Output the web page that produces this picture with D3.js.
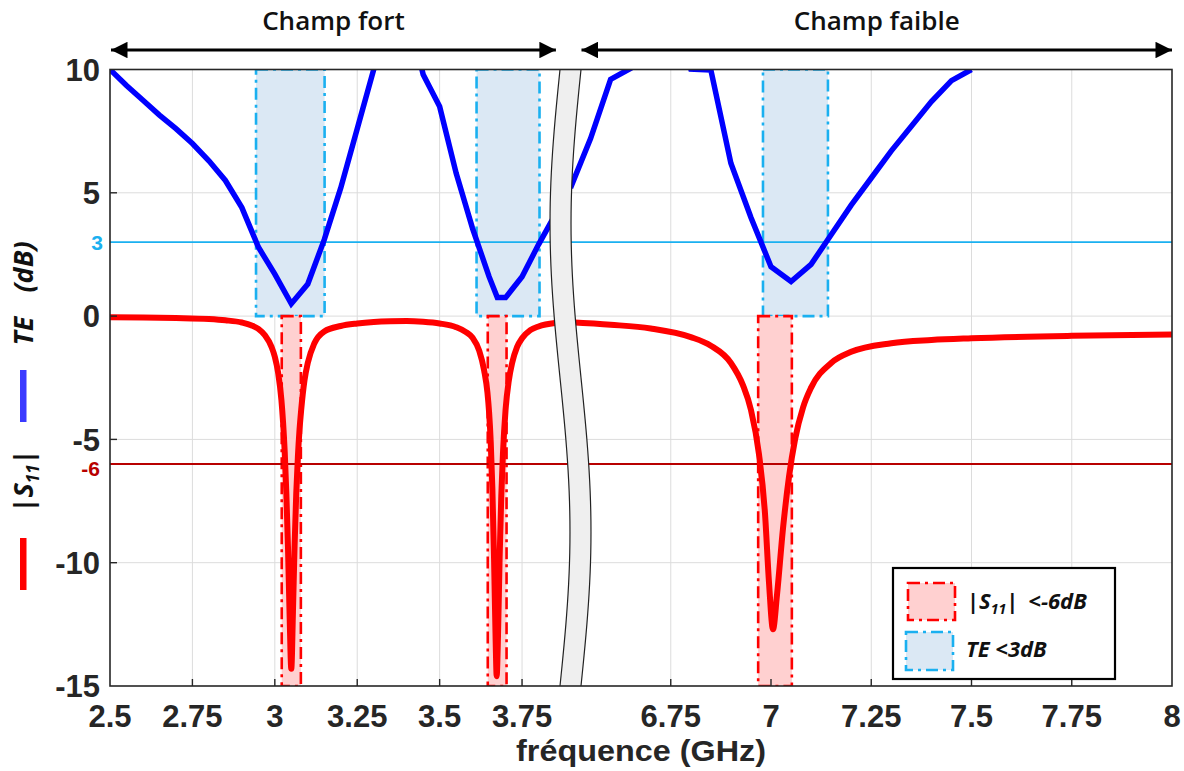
<!DOCTYPE html>
<html><head><meta charset="utf-8">
<script src="https://cdn.jsdelivr.net/npm/d3@7"></script>
<style>body{margin:0;background:#fff}</style>
</head><body>
<svg id="c" width="1184" height="771"></svg>
<script>
// ---------------- data ----------------
const xTicks = [2.5, 2.75, 3, 3.25, 3.5, 3.75, 6.75, 7, 7.25, 7.5, 7.75, 8];
const xTickLabels = ["2.5", "2.75", "3", "3.25", "3.5", "3.75", "6.75", "7", "7.25", "7.5", "7.75", "8"];
const yTicks = [-15, -10, -5, 0, 5, 10];
const yTickLabels = ["-15", "-10", "-5", "0", "5", "10"];
const xDomain = [2.5, 3.88, 6.5, 8];   // broken axis: [left start, left end, right start, right end]
const yDomain = [-15, 10];

const teLeftFreq = [2.5, 2.55, 2.6, 2.65, 2.7, 2.75, 2.8, 2.85, 2.9, 2.95, 3.0, 3.05, 3.1, 3.15, 3.2, 3.25, 3.3, 3.35, 3.4, 3.45, 3.5, 3.55, 3.6, 3.65, 3.675, 3.7, 3.75, 3.8, 3.85, 3.88];
const teLeftVal  = [10, 9.35, 8.75, 8.15, 7.6, 7.0, 6.3, 5.5, 4.4, 2.8, 1.7, 0.5, 1.3, 3.1, 5.2, 7.6, 10, 12.5, 12.5, 9.8, 8.5, 5.8, 3.55, 1.6, 0.75, 0.75, 1.6, 2.9, 4.1, 4.7];
const teRightFreq = [6.5, 6.55, 6.6, 6.65, 6.7, 6.75, 6.8, 6.85, 6.9, 6.95, 7.0, 7.05, 7.1, 7.15, 7.2, 7.25, 7.3, 7.35, 7.4, 7.45, 7.5];
const teRightVal  = [5.2, 7.2, 9.6, 10.05, 12.5, 12.5, 10.02, 9.98, 6.2, 4.0, 2.0, 1.4, 2.1, 3.3, 4.5, 5.6, 6.7, 7.7, 8.7, 9.55, 10.0];

const s11LeftFreq = [2.5, 2.6, 2.7, 2.8, 2.85, 2.9, 2.93, 2.95, 2.97, 2.99, 3.0, 3.01, 3.02, 3.025, 3.03, 3.035, 3.04, 3.045, 3.05, 3.055, 3.06, 3.065, 3.07, 3.075, 3.08, 3.09, 3.1, 3.12, 3.15, 3.2, 3.25, 3.3, 3.35, 3.4, 3.45, 3.5, 3.55, 3.58, 3.6, 3.62, 3.635, 3.645, 3.65, 3.655, 3.66, 3.665, 3.67, 3.673, 3.677, 3.682, 3.687, 3.692, 3.7, 3.71, 3.72, 3.735, 3.75, 3.775, 3.8, 3.85, 3.88];
const s11LeftVal  = [-0.05, -0.06, -0.08, -0.12, -0.17, -0.26, -0.38, -0.52, -0.78, -1.25, -1.65, -2.3, -3.4, -4.3, -5.5, -7.2, -9.4, -12.2, -14.3, -12.0, -9.3, -7.2, -5.7, -4.6, -3.8, -2.6, -1.9, -1.1, -0.62, -0.4, -0.3, -0.24, -0.21, -0.2, -0.23, -0.3, -0.45, -0.65, -0.88, -1.4, -2.2, -3.1, -3.9, -5.1, -7.0, -9.8, -13.2, -14.6, -13.0, -9.8, -7.3, -5.6, -3.8, -2.6, -1.9, -1.25, -0.9, -0.57, -0.42, -0.28, -0.25];
const s11RightFreq = [6.5, 6.6, 6.7, 6.8, 6.85, 6.9, 6.93, 6.95, 6.97, 6.985, 6.995, 7.005, 7.015, 7.03, 7.045, 7.06, 7.08, 7.1, 7.15, 7.2, 7.3, 7.4, 7.5, 7.75, 8.0];
const s11RightVal  = [-0.25, -0.35, -0.5, -0.85, -1.2, -1.9, -2.8, -3.8, -5.6, -8.0, -10.8, -12.7, -11.3, -8.6, -6.5, -5.0, -3.7, -2.9, -1.9, -1.45, -1.1, -0.97, -0.9, -0.8, -0.75];

const redBandStart  = [3.021, 3.646, 6.968];
const redBandEnd    = [3.079, 3.703, 7.052];
const blueBandStart = [2.943, 3.612, 6.980];
const blueBandEnd   = [3.151, 3.803, 7.142];

const teThreshold = 3;
const s11Threshold = -6;
const legendLabels = ["<-6dB", "TE <3dB"];
const regionLabels = ["Champ fort", "Champ faible"];

// ---------------- setup ----------------
const svg = d3.select("#c");
const L = 110, R = 1172, T = 69.5, B = 686;
const x = d3.scaleLinear().domain(xDomain).range([L, 564.9, 570.5, R]);
const y = d3.scaleLinear().domain(yDomain).range([B, T]);
const ink = "#262626";
const cBlue = "#0000ff", cRed = "#ff0000", cSky = "#1ab0f0", cDark = "#b80000";

const defs = svg.append("defs");
defs.append("clipPath").attr("id", "plot").append("rect")
  .attr("x", L).attr("y", T).attr("width", R - L).attr("height", B - T);
defs.append("marker").attr("id", "arr").attr("viewBox", "0 0 10 10")
  .attr("refX", 10).attr("refY", 5)
  .attr("markerWidth", 6.5).attr("markerHeight", 5.5).attr("markerUnits", "strokeWidth")
  .attr("orient", "auto-start-reverse")
  .append("path").attr("d", "M0,0 L10,5 L0,10 z").attr("fill", "#000");

// grid
const gridX = xTicks.filter(v => v !== xDomain[0] && v !== xDomain[3]);
svg.append("g").selectAll("line").data(gridX).join("line")
  .attr("x1", d => x(d)).attr("x2", d => x(d)).attr("y1", T).attr("y2", B)
  .attr("stroke", "#dcdcdc").attr("stroke-width", 1);
svg.append("g").selectAll("line").data(yTicks.slice(1, -1)).join("line")
  .attr("x1", L).attr("x2", R).attr("y1", d => y(d)).attr("y2", d => y(d))
  .attr("stroke", "#dcdcdc").attr("stroke-width", 1);

const plot = svg.append("g").attr("clip-path", "url(#plot)");
const dashDot = "12,5,3,5";

// shaded regions
const blueData = blueBandStart.map((s, i) => [s, blueBandEnd[i]]);
plot.append("g").selectAll("rect").data(blueData).join("rect")
  .attr("x", d => x(d[0])).attr("width", d => x(d[1]) - x(d[0]))
  .attr("y", y(10)).attr("height", y(0) - y(10))
  .attr("fill", "#dbe8f4").attr("stroke", cSky).attr("stroke-width", 2.6)
  .attr("stroke-dasharray", dashDot);
const redData = redBandStart.map((s, i) => [s, redBandEnd[i]]);
plot.append("g").selectAll("rect").data(redData).join("rect")
  .attr("x", d => x(d[0])).attr("width", d => x(d[1]) - x(d[0]))
  .attr("y", y(0)).attr("height", y(-15) - y(0))
  .attr("fill", "#ffd0d0").attr("stroke", cRed).attr("stroke-width", 2.6)
  .attr("stroke-dasharray", dashDot);

// threshold lines
plot.append("line").attr("x1", L).attr("x2", R).attr("y1", y(teThreshold)).attr("y2", y(teThreshold))
  .attr("stroke", cSky).attr("stroke-width", 1.8);
plot.append("line").attr("x1", L).attr("x2", R).attr("y1", y(s11Threshold)).attr("y2", y(s11Threshold))
  .attr("stroke", cDark).attr("stroke-width", 2);

// curves
const zip = (f, v) => f.map((d, i) => [d, v[i]]);
const smooth = d3.line().x(d => x(d[0])).y(d => y(d[1])).curve(d3.curveMonotoneX);
const poly = d3.line().x(d => x(d[0])).y(d => y(d[1]));
[zip(s11LeftFreq, s11LeftVal), zip(s11RightFreq, s11RightVal)].forEach(dat => {
  plot.append("path").attr("d", smooth(dat)).attr("fill", "none")
    .attr("stroke", cRed).attr("stroke-width", 6).attr("stroke-linejoin", "round").attr("stroke-linecap", "round");
});
[zip(teLeftFreq, teLeftVal), zip(teRightFreq, teRightVal)].forEach(dat => {
  plot.append("path").attr("d", poly(dat)).attr("fill", "none")
    .attr("stroke", cBlue).attr("stroke-width", 5.5).attr("stroke-linejoin", "miter").attr("stroke-linecap", "butt");
});

// axis break band (decorative S shape)
const bandC = x(xDomain[2]), bandW = 10.5, amp = 10;
const ys = d3.range(0, 61).map(i => T + (B - T) * i / 60);
const cx = yy => bandC - amp * Math.sin(2 * Math.PI * (yy - T) / (B - T));
const leftEdge = ys.map(yy => [cx(yy) - bandW, yy]);
const rightEdge = ys.map(yy => [cx(yy) + bandW, yy]);
const pl = d3.line().curve(d3.curveBasis);
svg.append("path").attr("d", d3.line()(leftEdge.concat(rightEdge.slice().reverse())) + "Z")
  .attr("fill", "#efefef").attr("stroke", "none");
svg.append("path").attr("d", pl(leftEdge)).attr("fill", "none").attr("stroke", "#222").attr("stroke-width", 1.2);
svg.append("path").attr("d", pl(rightEdge)).attr("fill", "none").attr("stroke", "#222").attr("stroke-width", 1.2);

// axes box & ticks
svg.append("rect").attr("x", L).attr("y", T).attr("width", R - L).attr("height", B - T)
  .attr("fill", "none").attr("stroke", ink).attr("stroke-width", 1.6);
svg.append("g").selectAll("line").data(gridX).join("line")
  .attr("x1", d => x(d)).attr("x2", d => x(d)).attr("y1", B).attr("y2", B - 7)
  .attr("stroke", ink).attr("stroke-width", 1.4);
svg.append("g").selectAll("line").data(yTicks.slice(1, -1)).join("line")
  .attr("x1", L).attr("x2", L + 7).attr("y1", d => y(d)).attr("y2", d => y(d))
  .attr("stroke", ink).attr("stroke-width", 1.4);

const tickFont = "'Liberation Sans', Arial, sans-serif";
svg.append("g").selectAll("text").data(xTicks).join("text")
  .attr("x", d => x(d)).attr("y", 727).attr("text-anchor", "middle")
  .attr("font-family", tickFont).attr("font-weight", "bold").attr("font-size", 31).attr("fill", ink)
  .text((d, i) => xTickLabels[i]);
svg.append("g").selectAll("text").data(yTicks).join("text")
  .attr("x", 100).attr("y", d => y(d)).attr("dy", "0.36em").attr("text-anchor", "end")
  .attr("font-family", tickFont).attr("font-weight", "bold").attr("font-size", 31).attr("fill", ink)
  .text((d, i) => yTickLabels[i]);
svg.append("text").attr("x", 103).attr("y", y(teThreshold)).attr("dy", "0.36em").attr("text-anchor", "end")
  .attr("font-family", tickFont).attr("font-weight", "bold").attr("font-size", 21).attr("fill", cSky).text(String(teThreshold));
svg.append("text").attr("x", 100).attr("y", y(s11Threshold) + 4).attr("dy", "0.36em").attr("text-anchor", "end")
  .attr("font-family", tickFont).attr("font-weight", "bold").attr("font-size", 21).attr("fill", cDark).text(String(s11Threshold));

svg.append("text").attr("x", 641).attr("y", 761).attr("text-anchor", "middle")
  .attr("font-family", tickFont).attr("font-weight", "bold").attr("font-size", 30).attr("fill", ink)
  .attr("textLength", 250).attr("lengthAdjust", "spacingAndGlyphs")
  .text("fréquence (GHz)");

// y title (rotated, with colored markers)
const titleFont = "'Open Sans', 'Noto Sans', sans-serif";
svg.append("rect").attr("x", 20).attr("y", 538).attr("width", 6.5).attr("height", 52).attr("fill", cRed);
svg.append("rect").attr("x", 20).attr("y", 370).attr("width", 6.5).attr("height", 52).attr("fill", "#3a3aff");
const s11t = svg.append("text").attr("transform", "translate(33,481) rotate(-90)").attr("text-anchor", "middle")
  .attr("font-family", titleFont).attr("font-style", "italic").attr("font-weight", "bold").attr("font-size", 27).attr("fill", "#111");
s11t.append("tspan").text("|S");
s11t.append("tspan").attr("font-size", 17).attr("dy", 6).text("11");
s11t.append("tspan").attr("dy", -6).text("|");
svg.append("text").attr("transform", "translate(33,331) rotate(-90)").attr("text-anchor", "middle")
  .attr("font-family", titleFont).attr("font-style", "italic").attr("font-weight", "bold").attr("font-size", 27).attr("fill", "#111").text("TE");
svg.append("text").attr("transform", "translate(33,267) rotate(-90)").attr("text-anchor", "middle")
  .attr("font-family", titleFont).attr("font-style", "italic").attr("font-weight", "bold").attr("font-size", 27).attr("fill", "#111").text("(dB)");

// region arrows
const arrows = [[x(xDomain[0]) + 1, x(xDomain[1]) - 9], [x(xDomain[2]) + 11, x(xDomain[3])]];
svg.append("g").selectAll("line").data(arrows).join("line")
  .attr("x1", d => d[0]).attr("x2", d => d[1]).attr("y1", 50).attr("y2", 50)
  .attr("stroke", "#000").attr("stroke-width", 3)
  .attr("marker-start", "url(#arr)").attr("marker-end", "url(#arr)");
svg.append("g").selectAll("text").data(arrows).join("text")
  .attr("x", d => (d[0] + d[1]) / 2).attr("y", 30).attr("text-anchor", "middle")
  .attr("font-family", titleFont).attr("font-weight", 600).attr("font-size", 26).attr("fill", "#111")
  .text((d, i) => regionLabels[i]);

// legend
const lg = svg.append("g");
lg.append("rect").attr("x", 893).attr("y", 568).attr("width", 222).attr("height", 111)
  .attr("fill", "#fff").attr("stroke", "#000").attr("stroke-width", 2.2);
lg.append("rect").attr("x", 908).attr("y", 583).attr("width", 47).attr("height", 37)
  .attr("fill", "#ffd0d0").attr("stroke", cRed).attr("stroke-width", 2.6).attr("stroke-dasharray", dashDot);
lg.append("rect").attr("x", 906).attr("y", 632).attr("width", 47).attr("height", 38)
  .attr("fill", "#dbe8f4").attr("stroke", cSky).attr("stroke-width", 2.6).attr("stroke-dasharray", dashDot);
const l1 = lg.append("text").attr("x", 967).attr("y", 609)
  .attr("font-family", titleFont).attr("font-style", "italic").attr("font-weight", "bold").attr("font-size", 22).attr("fill", "#111");
l1.append("tspan").text("|S");
l1.append("tspan").attr("font-size", 14).attr("dy", 5).text("11");
l1.append("tspan").attr("dy", -5).text("|");
l1.append("tspan").attr("dx", 10).text(legendLabels[0]);
lg.append("text").attr("x", 966).attr("y", 657)
  .attr("font-family", titleFont).attr("font-style", "italic").attr("font-weight", "bold").attr("font-size", 22).attr("fill", "#111")
  .text(legendLabels[1]);
</script>
</body></html>
